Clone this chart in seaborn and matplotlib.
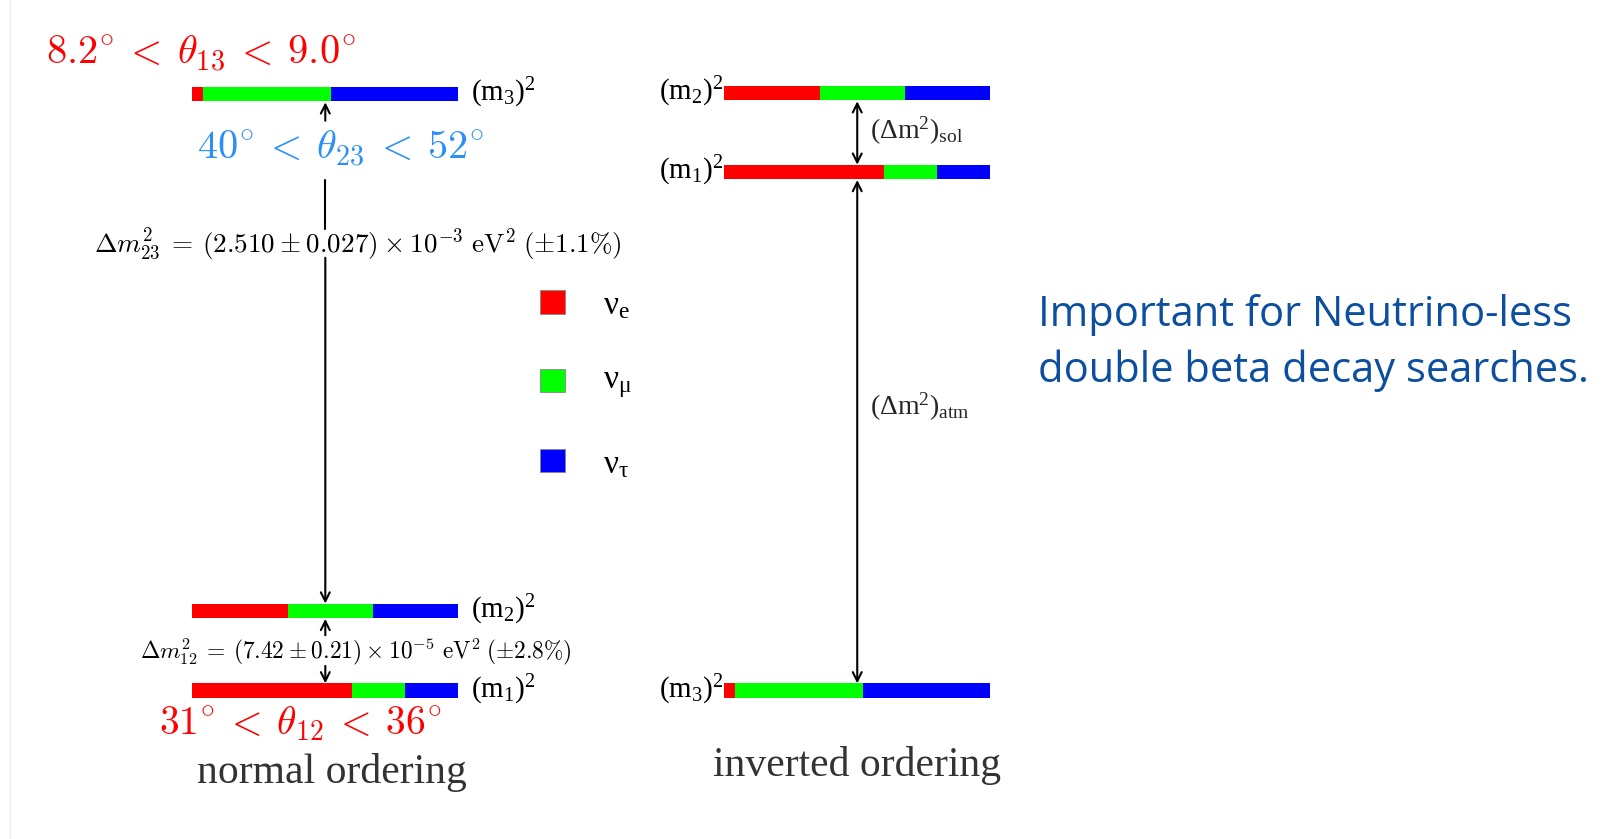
import numpy as np
import pandas as pd
import matplotlib
matplotlib.use("Agg")
import matplotlib.pyplot as plt
import seaborn as sns

# ---------------- data ----------------
flavours = ["e", "mu", "tau"]
flavour_colors = ["#ff0000", "#00ff00", "#0000ff"]
flavour_labels = [r"$\mathrm{\nu_e}$", r"$\mathrm{\nu_\mu}$", r"$\mathrm{\nu_\tau}$"]
# flavour content of each mass state (fractions e, mu, tau)
m1_frac = [0.60, 0.20, 0.20]
m2_frac = [0.36, 0.32, 0.32]
m3_frac = [0.04, 0.48, 0.48]
mass_states = ["m1", "m2", "m3"]
state_labels = {"m1": r"$\mathrm{(m_1)^2}$", "m2": r"$\mathrm{(m_2)^2}$", "m3": r"$\mathrm{(m_3)^2}$"}

theta13_text = r"$8.2^{\circ}\:<\:\theta_{13}\:<\:9.0^{\circ}$"
theta23_text = r"$40^{\circ}\:<\:\theta_{23}\:<\:52^{\circ}$"
theta12_text = r"$31^{\circ}\:<\:\theta_{12}\:<\:36^{\circ}$"
dm23_text = r"$\Delta m^2_{23}\:=\:(2.510\:\pm\:0.027)\:\times\:10^{-3}\ \mathrm{eV}^2\;(\pm 1.1\%)$"
dm12_text = r"$\Delta m^2_{12}\:=\:(7.42\:\pm\:0.21)\:\times\:10^{-5}\ \mathrm{eV}^2\;(\pm 2.8\%)$"
sol_text = r"$\mathrm{(\Delta m^2)_{sol}}$"
atm_text = r"$\mathrm{(\Delta m^2)_{atm}}$"
normal_title = "normal ordering"
inverted_title = "inverted ordering"
note_lines = ["Important for Neutrino-less", "double beta decay searches."]

# ---------------- layout ----------------
S = 1604 / 1568.0
def s(v):
    return v * S

W, H = 1604, 839
sns.set_style("white")
plt.rcParams["mathtext.rm"] = "Liberation Serif"
plt.rcParams["mathtext.it"] = "Liberation Serif:italic"
plt.rcParams["mathtext.bf"] = "Liberation Serif:bold"

fig = plt.figure(figsize=(W / 100, H / 100), dpi=100)
ax = fig.add_axes([0, 0, 1, 1])
ax.set_xlim(0, W)
ax.set_ylim(H, 0)
ax.axis("off")

bar_len = s(260)
bar_h = s(14)
normal_x0 = s(188)
inv_x0 = s(708)
normal_y = {"m3": s(92), "m2": s(597), "m1": s(675)}
inv_y = {"m2": s(91), "m1": s(168), "m3": s(675)}
fracs = {"m1": m1_frac, "m2": m2_frac, "m3": m3_frac}

def draw_state(x0, yc, frac):
    left = x0
    for f, c in zip(frac, flavour_colors):
        ax.barh(yc, f * bar_len, left=left, height=bar_h, color=c, edgecolor="none")
        left += f * bar_len

for st in mass_states:
    draw_state(normal_x0, normal_y[st], fracs[st])
    draw_state(inv_x0, inv_y[st], fracs[st])

lab_fs = 21
for st in mass_states:
    ax.text(normal_x0 + bar_len + s(12), normal_y[st] - s(1), state_labels[st], fontsize=lab_fs,
            ha="left", va="center", math_fontfamily="custom", color="black")
    ax.text(inv_x0 - s(1), inv_y[st] - s(1), state_labels[st], fontsize=lab_fs,
            ha="right", va="center", math_fontfamily="custom", color="black")

# legend squares
leg_x = s(540)
leg_ys = [s(295), s(372), s(450)]
for yy, c, lab in zip(leg_ys, flavour_colors, flavour_labels):
    ax.barh(yy, s(24), left=leg_x - s(12), height=s(23), color=c, edgecolor="#888888", linewidth=0.6)
    ax.text(s(589), yy + s(3), lab, fontsize=24, ha="left", va="center",
            math_fontfamily="custom", color="black")

# normal ordering arrows
ax_x = s(318)
arr = dict(arrowstyle="->", color="black", lw=1.5, shrinkA=0, shrinkB=0, mutation_scale=16)
ax.annotate("", xy=(ax_x, s(100)), xytext=(ax_x, s(118)), arrowprops=arr)
ax.plot([ax_x, ax_x], [s(176), s(224)], color="black", lw=1.5)
ax.annotate("", xy=(ax_x, s(590)), xytext=(ax_x, s(252)), arrowprops=arr)
ax.annotate("", xy=(ax_x, s(605)), xytext=(ax_x, s(621)), arrowprops=arr)
ax.annotate("", xy=(ax_x, s(668)), xytext=(ax_x, s(651)), arrowprops=arr)

# inverted ordering arrows
ix = s(838)
arr2 = dict(arrowstyle="<->", color="black", lw=1.5, shrinkA=0, shrinkB=0, mutation_scale=16)
ax.annotate("", xy=(ix, s(99)), xytext=(ix, s(161)), arrowprops=arr2)
ax.annotate("", xy=(ix, s(176)), xytext=(ix, s(668)), arrowprops=arr2)
ax.text(s(850), s(128), sol_text, fontsize=20, ha="left", va="center", math_fontfamily="custom")
ax.text(s(850), s(398), atm_text, fontsize=20, ha="left", va="center", math_fontfamily="custom")

# angle texts
ax.text(s(45), s(53), theta13_text, fontsize=29, color="#ff0000", ha="left", va="center",
        math_fontfamily="cm")
ax.text(s(193), s(145), theta23_text, fontsize=29, color="#2b8ff5", ha="left", va="center",
        math_fontfamily="cm")
ax.text(s(155), s(707), theta12_text, fontsize=28.5, color="#ff0000", ha="left", va="center",
        math_fontfamily="cm")
ax.text(s(92), s(239), dm23_text, fontsize=19.5, color="black", ha="left", va="center",
        math_fontfamily="cm")
ax.text(s(137), s(637), dm12_text, fontsize=16.8, color="black", ha="left", va="center",
        math_fontfamily="cm")

# titles
ax.text(s(193), s(755), normal_title, fontsize=30, color="#333333", ha="left", va="center",
        family="Liberation Serif")
ax.text(s(697), s(748), inverted_title, fontsize=30, color="#333333", ha="left", va="center",
        family="Liberation Serif")

# note
ax.text(s(1015), s(308), note_lines[0], fontsize=30, color="#0d4f9f", ha="left", va="center",
        family="Open Sans")
ax.text(s(1015), s(362), note_lines[1], fontsize=30, color="#0d4f9f", ha="left", va="center",
        family="Open Sans")

# slide edge
ax.plot([s(10), s(10)], [0, H], color="#eeeeee", lw=1)

fig.savefig("out.png", dpi=100)
